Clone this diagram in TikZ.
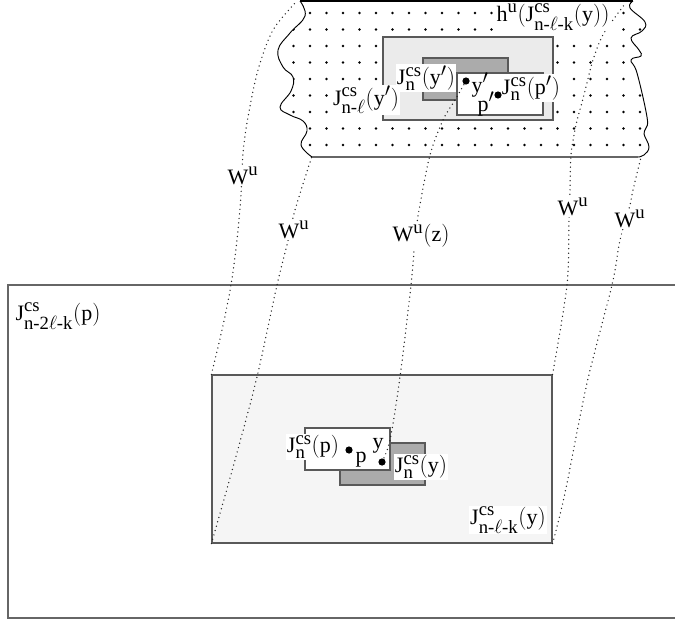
\documentclass[tikz,border=0pt]{standalone}
\usepackage{amsmath}
\usepackage{fontspec}
\setmainfont{Liberation Serif}
\DeclareMathSizes{16.5}{16.5}{14}{11}
\usetikzlibrary{fit}
\newcommand{\Jc}[1]{\text{J}^{\text{cs}}_{#1}}
\begin{document}
\begin{tikzpicture}[x=0.75pt,y=-0.75pt,
  lbl/.style={fill=white, inner sep=1pt, font=\fontsize{16.5}{19}\selectfont},
  plain/.style={inner sep=0.5pt, font=\fontsize{16.5}{19}\selectfont},
  frame/.style={draw=black!60, line width=1.1pt},
  boxline/.style={draw=black!65, line width=0.9pt},
  leaf/.style={draw=black!85, line width=1.1pt, dash pattern=on 0pt off 3.4pt, line cap=round},
  pt/.style={fill=black}]
\useasboundingbox (0,0) rectangle (675,621);
% big rectangle (open to the right)
\draw[frame] (676,285) -- (8,285) -- (8,618) -- (676,618);
% band
\path[fill=white] (300,1) -- (633,1) -- plot[smooth, tension=0.7] coordinates {(633,1) (630,8) (645,22) (642,31) (631,38) (639,50) (641,56) (631,60) (637,73) (647,117) (646,128) (644,134) (649,147) (644,155) (638,157)} -- (312,157) -- plot[smooth, tension=0.7] coordinates {(312,157) (301,145) (307,131) (303,121) (290,115) (280,107) (291,91) (293,77) (283,67) (278,50) (290,33) (305,16) (300,1)} -- cycle;
\begin{scope}
\clip (300,1) -- (633,1) -- plot[smooth, tension=0.7] coordinates {(633,1) (630,8) (645,22) (642,31) (631,38) (639,50) (641,56) (631,60) (637,73) (647,117) (646,128) (644,134) (649,147) (644,155) (638,157)} -- (312,157) -- plot[smooth, tension=0.7] coordinates {(312,157) (301,145) (307,131) (303,121) (290,115) (280,107) (291,91) (293,77) (283,67) (278,50) (290,33) (305,16) (300,1)} -- cycle;
\foreach \i in {-1,...,21} \foreach \j in {0,...,8} \fill ({310+16.5*\i},{13+16.5*\j}) circle[radius=1pt];
\end{scope}
\draw[line width=0.7pt] plot[smooth, tension=0.7] coordinates {(633,1) (630,8) (645,22) (642,31) (631,38) (639,50) (641,56) (631,60) (637,73) (647,117) (646,128) (644,134) (649,147) (644,155) (638,157)};
\draw[line width=0.7pt] plot[smooth, tension=0.7] coordinates {(312,157) (301,145) (307,131) (303,121) (290,115) (280,107) (291,91) (293,77) (283,67) (278,50) (290,33) (305,16) (300,1)};
\draw[draw=black!60, line width=1pt] (312,157) -- (638,157);
\draw[line width=1.6pt] (300,1) -- (633,1);
% top rectangles
\node[fit={(383,37) (553,120)}, inner sep=0pt, boxline, fill=black!8] (TL) {};
\node[fit={(423,58) (508,100)}, inner sep=0pt, boxline, fill=black!33] (TD) {};
\node[fit={(457,73) (543,115)}, inner sep=0pt, boxline, fill=white] (TW) {};
% bottom rectangles
\node[fit={(212,375) (552,543)}, inner sep=0pt, boxline, fill=black!4] (BL) {};
\node[fit={(340,443) (425,485)}, inner sep=0pt, boxline, fill=black!33] (BD) {};
\node[fit={(305,428) (390,470)}, inner sep=0pt, boxline, fill=white] (BW) {};
% points
\coordinate (yq) at (466,81);
\coordinate (pq) at (498,95);
\coordinate (pp) at (349,450);
\coordinate (yy) at (382,462);
% unstable leaves
\draw[leaf] plot[smooth] coordinates {(BL.north west) (222,330) (231,285) (237,240) (241,195) (243,153) (248,117) (258,70) (273,30) (297,1)};
\draw[leaf] plot[smooth] coordinates {(BL.south west) (235,460) (257,377) (277,285) (287,245) (295,210) (312,156)};
\draw[leaf] plot[smooth] coordinates {(yy) (390,440) (400,377) (411,285) (415,240) (419,210) (430,155) (443,120) (455,100) (yq)};
\draw[leaf] plot[smooth] coordinates {(BL.north east) (567,285) (569,220) (570,190) (571,155) (576,125) (584,95) (593,60) (604,33) (625,4)};
\draw[leaf] plot[smooth] coordinates {(BL.south east) (565,493) (587,383) (612,285) (620,240) (630,205) (633,190) (641,157)};
% labels
\node[lbl] (hl) at (553,17) {$\text{h}^{\text{u}}(\Jc{\text{n-}\ell\text{-k}}(\text{y}))$};
\node[lbl] (jyq) at (426,78) {$\Jc{\text{n}}(\text{y}')$};
\node[lbl] (jnl) at (366,100) {$\Jc{\text{n-}\ell}(\text{y}')$};
\node[lbl] (jpq) at (531,88) {$\Jc{\text{n}}(\text{p}')$};
\node[plain] (lyq) at (480,85) {y$'$};
\node[plain] (lpq) at (486,104) {p$'$};
\node[lbl, fill=none] (j2) at (58,316) {$\Jc{\text{n-2}\ell\text{-k}}(\text{p})$};
\node[lbl] (jp) at (313,447) {$\Jc{\text{n}}(\text{p})$};
\node[plain] (lp) at (361,460) {p};
\node[plain] (ly) at (378,446) {y};
\node[lbl] (jy) at (421,467) {$\Jc{\text{n}}(\text{y})$};
\node[lbl] (jnlk) at (508,520) {$\Jc{\text{n-}\ell\text{-k}}(\text{y})$};
\node[lbl] (w1) at (243,176) {$\text{W}^{\text{u}}$};
\node[lbl] (w2) at (294,230) {$\text{W}^{\text{u}}$};
\node[lbl] (w3) at (421,236) {$\text{W}^{\text{u}}(\text{z})$};
\node[lbl] (w4) at (573,207) {$\text{W}^{\text{u}}$};
\node[lbl] (w5) at (630,219) {$\text{W}^{\text{u}}$};
% dots
\fill[pt] (yq) circle[radius=2.7pt];
\fill[pt] (pq) circle[radius=2.7pt];
\fill[pt] (pp) circle[radius=2.7pt];
\fill[pt] (yy) circle[radius=2.7pt];
\end{tikzpicture}
\end{document}
